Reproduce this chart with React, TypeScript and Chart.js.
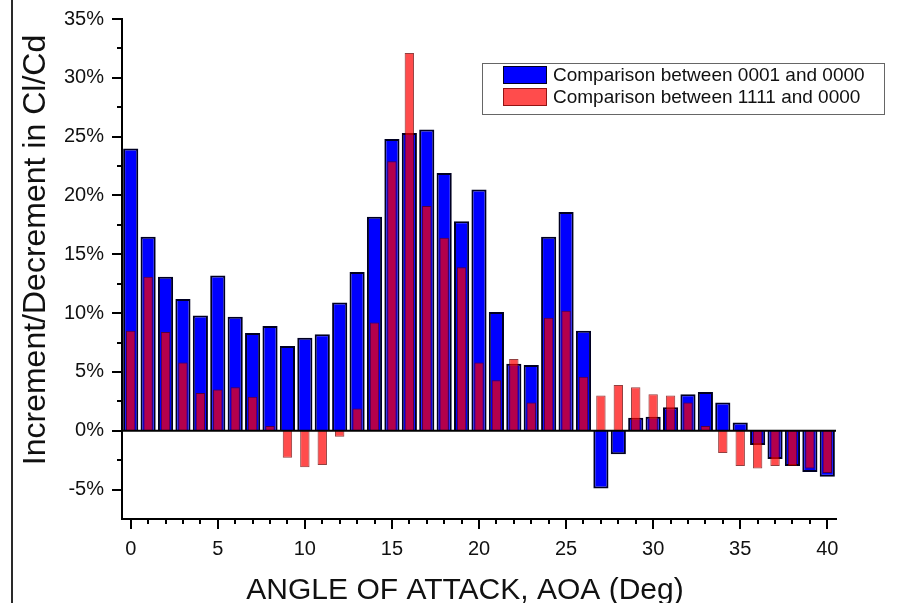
import React, { useEffect, useRef } from 'react';
import { Chart, registerables } from 'chart.js';

Chart.register(...registerables);

// Angle of attack (deg) for each bar pair
const aoaLabels = [
  '0', '1', '2', '3', '4', '5', '6', '7', '8', '9', '10',
  '11', '12', '13', '14', '15', '16', '17', '18', '19', '20',
  '21', '22', '23', '24', '25', '26', '27', '28', '29', '30',
  '31', '32', '33', '34', '35', '36', '37', '38', '39', '40',
];

// Change in Cl/Cd (%), 0001 vs 0000
const series0001 = [
  24.0, 16.5, 13.1, 11.2, 9.8, 13.2, 9.7, 8.3, 8.9, 7.2, 7.9,
  8.2, 10.9, 13.5, 18.2, 24.8, 25.3, 25.6, 21.9, 17.8, 20.5,
  10.1, 5.7, 5.6, 16.5, 18.6, 8.5, -4.9, -2.0, 1.1, 1.2,
  2.0, 3.1, 3.3, 2.4, 0.7, -1.2, -2.4, -3.0, -3.5, -3.9,
];

// Change in Cl/Cd (%), 1111 vs 0000
const series1111 = [
  8.5, 13.1, 8.4, 5.8, 3.2, 3.5, 3.7, 2.9, 0.4, -2.3, -3.1,
  -2.9, -0.5, 1.9, 9.2, 22.9, 32.1, 19.1, 16.4, 13.9, 5.8,
  4.3, 6.1, 2.4, 9.6, 10.2, 4.6, 3.0, 3.9, 3.7, 3.1,
  3.0, 2.4, 0.4, -1.9, -3.0, -3.2, -3.0, -3.0, -3.2, -3.6,
];

const seriesNames = ['Comparison between 0001 and 0000', 'Comparison between 1111 and 0000'];

// Labelled y ticks (%)
const yTickValues = [35, 30, 25, 20, 15, 10, 5, 0, -5];
const yMinorStep = 2.5;
const xLabelEvery = 5;

const xTitle = 'ANGLE OF ATTACK, AOA (Deg)';
const yTitle = 'Increment/Decrement in Cl/Cd';

const FONT = "'Liberation Sans', Arial, sans-serif";

const decorPlugin = {
  id: 'decor',
  beforeDraw(chart: any) {
    const ctx = chart.ctx;
    ctx.save();
    ctx.fillStyle = '#ffffff';
    ctx.fillRect(0, 0, chart.width, chart.height);
    // figure frame on the left edge
    ctx.fillStyle = '#2a2a2a';
    ctx.fillRect(11, 0, 2, chart.height);
    ctx.restore();
  },
  afterDatasetsDraw(chart: any) {
    const ctx = chart.ctx;
    const { left, right } = chart.chartArea;
    const y0 = chart.scales.y.getPixelForValue(0);
    ctx.save();
    ctx.strokeStyle = '#000';
    ctx.lineWidth = 2;
    ctx.beginPath();
    ctx.moveTo(left, y0);
    ctx.lineTo(right, y0);
    ctx.stroke();
    ctx.restore();
  },
  afterDraw(chart: any) {
    const ctx = chart.ctx;
    const xs = chart.scales.x;
    const ys = chart.scales.y;
    const { left, bottom } = chart.chartArea;
    ctx.save();
    ctx.strokeStyle = '#000';
    ctx.lineWidth = 2;
    ctx.beginPath();
    // x tick marks, one per angle, longer at labelled ones
    for (let i = 0; i < aoaLabels.length; i++) {
      const px = Math.round(xs.getPixelForValue(i));
      const len = i % xLabelEvery === 0 ? 10 : 5;
      ctx.moveTo(px, bottom);
      ctx.lineTo(px, bottom + len);
    }
    // y tick marks
    for (let v = ys.min; v <= ys.max + 1e-6; v += yMinorStep) {
      const py = Math.round(ys.getPixelForValue(v));
      if (py > bottom - 1) continue;
      const major = Math.abs(v % 5) < 1e-6;
      ctx.moveTo(left, py);
      ctx.lineTo(left - (major ? 10 : 5), py);
    }
    ctx.stroke();

    // axis titles
    ctx.fillStyle = '#111';
    ctx.font = `30px ${FONT}`;
    ctx.textAlign = 'center';
    ctx.textBaseline = 'alphabetic';
    ctx.fillText(xTitle, 465, 599);
    ctx.save();
    ctx.font = `32px ${FONT}`;
    ctx.translate(45, 250);
    ctx.rotate(-Math.PI / 2);
    ctx.fillText(yTitle, 0, 0);
    ctx.restore();

    // legend box
    const boxX = 482, boxY = 63, boxW = 402, boxH = 51;
    ctx.fillStyle = '#fff';
    ctx.fillRect(boxX, boxY, boxW, boxH);
    ctx.strokeStyle = '#666';
    ctx.lineWidth = 1;
    ctx.strokeRect(boxX + 0.5, boxY + 0.5, boxW, boxH);
    const order = [1, 0];
    order.forEach((dsIndex, row) => {
      const ds = chart.data.datasets[dsIndex];
      const sy = 66 + row * 22;
      ctx.fillStyle = ds.backgroundColor;
      ctx.fillRect(503, sy, 44, 18);
      ctx.strokeStyle = ds.borderColor;
      ctx.lineWidth = 1;
      ctx.strokeRect(503.5, sy + 0.5, 43, 17);
      ctx.fillStyle = '#111';
      ctx.font = `19px ${FONT}`;
      ctx.textAlign = 'left';
      ctx.textBaseline = 'middle';
      ctx.fillText(ds.label, 553, sy + 10);
    });
    ctx.restore();
  },
};

export default function App() {
  const canvasRef = useRef<HTMLCanvasElement | null>(null);

  useEffect(() => {
    const canvas = canvasRef.current;
    if (!canvas) return;
    const chart = new Chart(canvas, {
      type: 'bar',
      data: {
        labels: aoaLabels,
        datasets: [
          {
            label: seriesNames[1],
            data: series1111,
            backgroundColor: 'rgba(255, 0, 0, 0.7)',
            borderColor: 'rgba(110, 0, 0, 0.75)',
            borderWidth: 1,
            barPercentage: 0.54,
            categoryPercentage: 1,
            grouped: false,
            order: 1,
          },
          {
            label: seriesNames[0],
            data: series0001,
            backgroundColor: '#0000ff',
            borderColor: '#000022',
            borderWidth: 2,
            barPercentage: 0.87,
            categoryPercentage: 1,
            grouped: false,
            order: 2,
          },
        ],
      } as any,
      options: {
        animation: false,
        responsive: false,
        maintainAspectRatio: false,
        devicePixelRatio: 1,
        layout: { padding: { top: 19, right: 67, left: 0, bottom: 0 } },
        plugins: {
          legend: { display: false },
          tooltip: { enabled: false },
          title: { display: false },
        },
        scales: {
          x: {
            type: 'category',
            offset: true,
            grid: { display: false, drawTicks: false },
            border: { display: true, color: '#000', width: 2 },
            ticks: {
              autoSkip: false,
              maxRotation: 0,
              padding: 18,
              color: '#111',
              font: { family: FONT, size: 20 },
              callback: (_v: any, i: number) => (i % xLabelEvery === 0 ? aoaLabels[i] : ''),
            },
            afterFit: (s: any) => {
              s.height = 84;
              s.paddingLeft = 0;
              s.paddingRight = 0;
            },
          },
          y: {
            min: -7.5,
            max: 35,
            grid: { display: false, drawTicks: false },
            border: { display: true, color: '#000', width: 2 },
            afterBuildTicks: (s: any) => {
              s.ticks = yTickValues.map((v) => ({ value: v }));
            },
            ticks: {
              padding: 18,
              color: '#111',
              font: { family: FONT, size: 20 },
              callback: (v: any) => `${v}%`,
            },
            afterFit: (s: any) => {
              s.width = 122;
              s.paddingTop = 0;
              s.paddingBottom = 0;
            },
          },
        },
      } as any,
      plugins: [decorPlugin],
    });
    return () => chart.destroy();
  }, []);

  return (
    <div style={{ position: 'fixed', left: 0, top: 0, width: 903, height: 603, background: '#fff' }}>
      <canvas ref={canvasRef} width={903} height={603} style={{ display: 'block' }} />
    </div>
  );
}
